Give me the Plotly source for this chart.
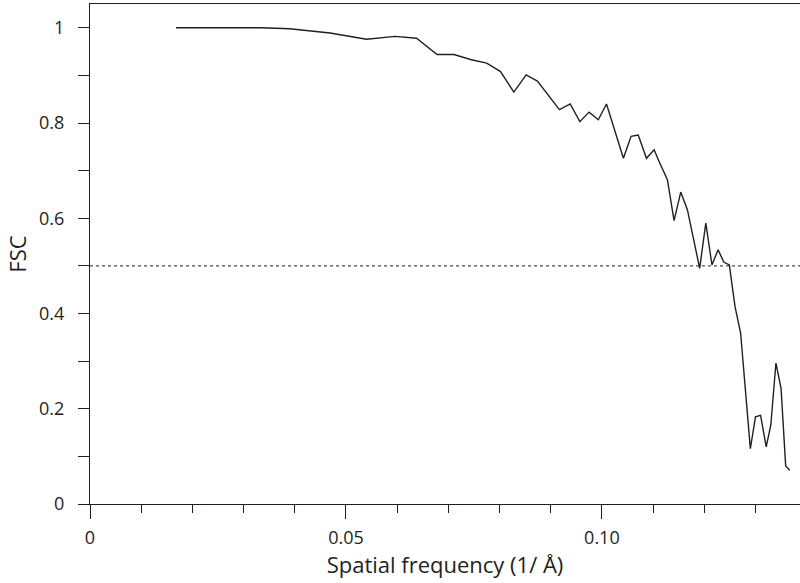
import plotly.graph_objects as go

# Spatial frequency (1/Å) and FSC values
freq = [0.0168, 0.0335, 0.0390, 0.0469, 0.0540, 0.0596, 0.0638, 0.0678, 0.0711,
        0.0745, 0.0775, 0.0802, 0.0828, 0.0852, 0.0874, 0.0917, 0.0938, 0.0957,
        0.0975, 0.0993, 0.1009, 0.1022, 0.1042, 0.1057, 0.1071, 0.1087, 0.1102,
        0.1113, 0.1128, 0.1141, 0.1154, 0.1167, 0.1180, 0.1191, 0.1203, 0.1215,
        0.1227, 0.1238, 0.1249, 0.1260, 0.1271, 0.1290, 0.1300, 0.1310, 0.1321,
        0.1330, 0.1340, 0.1350, 0.1359, 0.1367]
fsc = [1.000, 1.000, 0.998, 0.989, 0.976, 0.982, 0.978, 0.944, 0.944,
       0.933, 0.926, 0.908, 0.865, 0.901, 0.888, 0.828, 0.840, 0.803,
       0.823, 0.807, 0.840, 0.793, 0.726, 0.772, 0.775, 0.726, 0.744,
       0.716, 0.681, 0.595, 0.655, 0.618, 0.548, 0.495, 0.590, 0.502,
       0.534, 0.508, 0.502, 0.415, 0.359, 0.116, 0.183, 0.186, 0.120,
       0.166, 0.296, 0.243, 0.080, 0.071]

threshold = 0.5

x_tickvals = [0, 0.05, 0.10]
x_ticktext = ["0", "0.05", "0.10"]
y_tickvals = [0, 0.2, 0.4, 0.6, 0.8, 1.0]
y_ticktext = ["0", "0.2", "0.4", "0.6", "0.8", "1"]

x_range = [0, 0.1387]
y_range = [0, 1.05]

FONT = "Open Sans, Noto Sans, sans-serif"
INK = "#231f20"

fig = go.Figure()

fig.add_trace(go.Scatter(
    x=freq, y=fsc, mode="lines",
    line=dict(color=INK, width=1.4),
    showlegend=False, hoverinfo="x+y",
))

fig.add_shape(type="line", xref="paper", yref="y", x0=0, x1=1,
              y0=threshold, y1=threshold,
              line=dict(color=INK, width=1, dash="dot"))

fig.update_layout(
    width=800, height=583,
    margin=dict(l=90, r=0, t=4, b=79, autoexpand=False),
    plot_bgcolor="white", paper_bgcolor="white",
    font=dict(family=FONT, color=INK, size=18),
    xaxis=dict(
        range=x_range, showgrid=False, zeroline=False,
        showline=True, mirror=True, linecolor=INK, linewidth=1.4,
        tickvals=x_tickvals, ticktext=x_ticktext,
        ticks="outside", ticklen=14, tickwidth=1, tickcolor=INK,
        ticklabelstandoff=3,
        minor=dict(dtick=0.01, tick0=0, ticks="outside", ticklen=8,
                   tickwidth=1, tickcolor=INK, showgrid=False),
        tickfont=dict(size=18, family=FONT, color=INK),
        automargin=False,
        title=dict(text="Spatial frequency (1/ Å)", font=dict(size=22, family=FONT, color=INK),
                   standoff=8),
    ),
    yaxis=dict(
        range=y_range, showgrid=False, zeroline=False,
        showline=True, linecolor=INK, linewidth=1.3,
        tickvals=y_tickvals, ticktext=y_ticktext,
        ticks="outside", ticklen=11, tickwidth=1, tickcolor=INK,
        ticklabelstandoff=10,
        minor=dict(dtick=0.1, tick0=0, ticks="outside", ticklen=11,
                   tickwidth=1, tickcolor=INK, showgrid=False),
        tickfont=dict(size=18, family=FONT, color=INK),
        automargin=False,
        title=dict(text="FSC", font=dict(size=22, family=FONT, color=INK), standoff=6),
    ),
)

fig.write_html("out.html", config={"displayModeBar": False},
               post_script="document.body.style.margin='0';")
